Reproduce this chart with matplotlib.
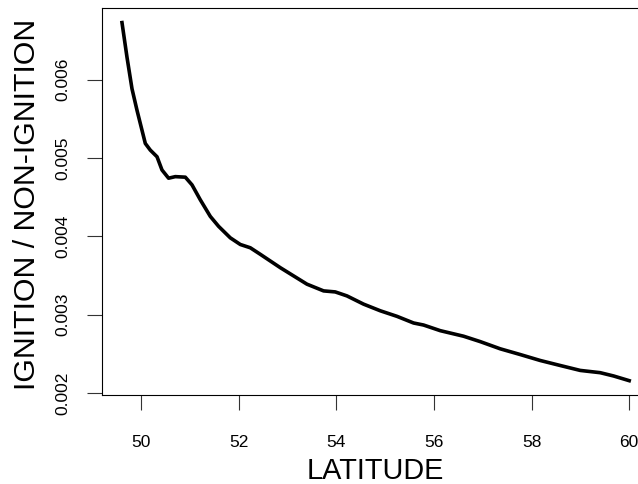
import numpy as np
import matplotlib
matplotlib.use("Agg")
import matplotlib.pyplot as plt

plt.rcParams['font.family'] = ['Liberation Sans', 'DejaVu Sans']

# curve
latitude = [49.604, 49.707, 49.809, 49.912, 50.014, 50.082, 50.184, 50.322,
            50.424, 50.559, 50.697, 50.902, 51.039, 51.209, 51.414, 51.584,
            51.824, 52.029, 52.234, 52.44, 52.848, 53.395, 53.736, 53.975,
            54.215, 54.555, 54.898, 55.240, 55.580, 55.785, 56.127, 56.605,
            56.947, 57.357, 57.766, 58.176, 58.586, 58.996, 59.406, 59.68,
            60.0]
ratio = [0.006731, 0.006287, 0.005886, 0.005610, 0.005356, 0.005187, 0.005102,
         0.005017, 0.004848, 0.004743, 0.004763, 0.004756, 0.004658, 0.004467,
         0.004255, 0.004128, 0.003981, 0.003896, 0.003854, 0.003770, 0.003600,
         0.003389, 0.003303, 0.003290, 0.003239, 0.003134, 0.003049, 0.002978,
         0.002893, 0.002867, 0.002795, 0.002724, 0.002655, 0.002563, 0.002490,
         0.002414, 0.002350, 0.002287, 0.002258, 0.002216, 0.002156]
xticks = [50, 52, 54, 56, 58, 60]
yticks = [0.002, 0.003, 0.004, 0.005, 0.006]

fig = plt.figure(figsize=(6.38, 4.84), dpi=100)
ax = fig.add_axes([0.1594, 0.1839, 0.8586, 0.799])

ax.plot(latitude, ratio, color='black', lw=2.6, solid_joinstyle='round')

# R-style 4% padding
x0, x1 = min(latitude), max(latitude)
y0, y1 = min(ratio), max(ratio)
ax.set_xlim(x0 - 0.04 * (x1 - x0), x1 + 0.04 * (x1 - x0))
ax.set_ylim(y0 - 0.04 * (y1 - y0), y1 + 0.04 * (y1 - y0))

ax.set_xticks(xticks)
ax.set_xticklabels([str(v) for v in xticks])
ax.set_yticks(yticks)
ax.set_yticklabels(['%.3f' % v for v in yticks], rotation=90, va='center')

for s in ax.spines.values():
    s.set_linewidth(0.8)
ax.tick_params(axis='both', direction='out', length=10.5, width=0.8,
               labelsize=12.5, color='#333333')
ax.tick_params(axis='x', pad=18.5)
ax.tick_params(axis='y', pad=12)

ax.set_xlabel('LATITUDE', fontsize=20.8, va='baseline')
ax.xaxis.set_label_coords(0.5, -0.2175)
ax.set_ylabel('IGNITION / NON-IGNITION', fontsize=21.8, va='baseline')
ax.yaxis.set_label_coords(-0.1218, 0.494)

fig.savefig('out.png', dpi=100)
